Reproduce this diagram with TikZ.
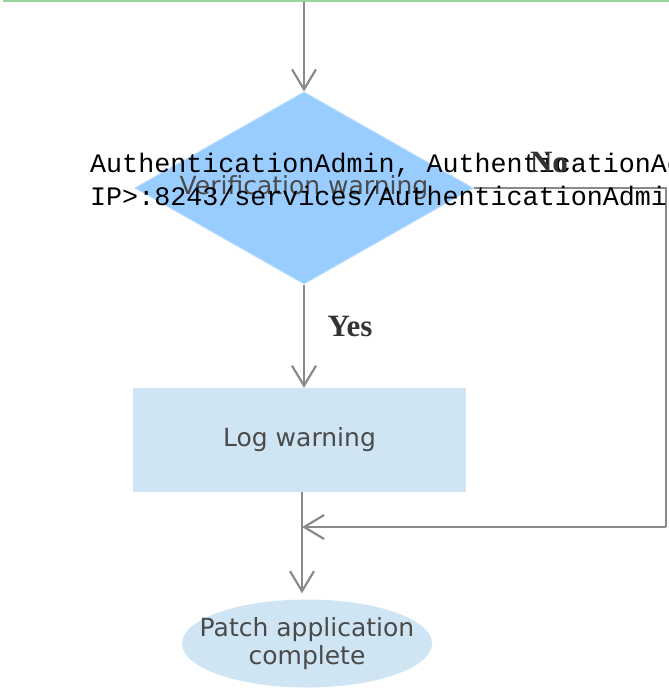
\documentclass[tikz,border=0pt]{standalone}
\usepackage{fontspec}
\setmainfont{DejaVu Sans}
\newfontfamily\monofont{Liberation Mono}
\newfontfamily\labelfont{Liberation Serif}
\usetikzlibrary{shapes.geometric,arrows.meta}
\definecolor{startgreen}{HTML}{99D49C}
\definecolor{diafill}{HTML}{99CCFF}
\definecolor{diaedge}{HTML}{B3DAFF}
\definecolor{boxfill}{HTML}{CFE5F3}
\definecolor{linegray}{HTML}{8A8A8A}
\definecolor{txtgray}{HTML}{4A4A4A}
\tikzset{
  conn/.style={draw=linegray, line width=2.2pt},
  arr/.style={conn, -{Straight Barb[length=20pt,width=24pt]}},
  txt/.style={text=txtgray, font=\fontsize{25}{28}\selectfont},
  lbl/.style={text=black!80, font=\labelfont\bfseries\fontsize{31}{32}\selectfont, inner sep=0pt},
  mono/.style={font=\monofont\fontsize{26.7}{33}\selectfont, inner sep=0pt, anchor=base west}
}
\begin{document}
\begin{tikzpicture}[x=1pt,y=-1pt]
\useasboundingbox (0,0) rectangle (669,688);
\node[draw=startgreen, line width=2.6pt, minimum width=800pt, minimum height=60pt, anchor=south west, inner sep=0pt] (start) at (3,1.6) {};
\node[diamond, fill=diafill, draw=diaedge, line width=1pt, aspect=1.76, minimum width=338pt, minimum height=192pt, inner sep=0pt, txt] (dia) at (304,188) {\raisebox{-3pt}{Verification warning}};
\node[fill=boxfill, minimum width=333pt, minimum height=104pt, inner sep=0pt, txt] (log) at (299.5,440) {Log warning};
\node[ellipse, fill=boxfill, minimum width=250pt, minimum height=88pt, inner xsep=-20pt, inner ysep=0pt, txt, align=center] (end) at (307,643.5) {Patch application\\complete};
\coordinate (join) at (302,527);
\coordinate (corner) at (666,527);
\draw[arr] (start.south -| dia.north) -- (dia.north);
\draw[arr] (dia.south) -- (log.north -| dia.south);
\draw[arr, shorten >=6pt] (log.south -| join) -- (end.north -| join);
\draw[conn] (dia.east) -| (corner);
\draw[arr] (corner) -- (join);
\node[mono] (m1) at (90,172) {AuthenticationAdmin, AuthenticationAc};
\node[mono] (m2) at (90,205) {IP>:8243/services/AuthenticationAdmi};
\node[lbl, anchor=base] (no) at (549,172) {No};
\node[lbl, anchor=base] (yes) at (350,336) {Yes};
\end{tikzpicture}
\end{document}
